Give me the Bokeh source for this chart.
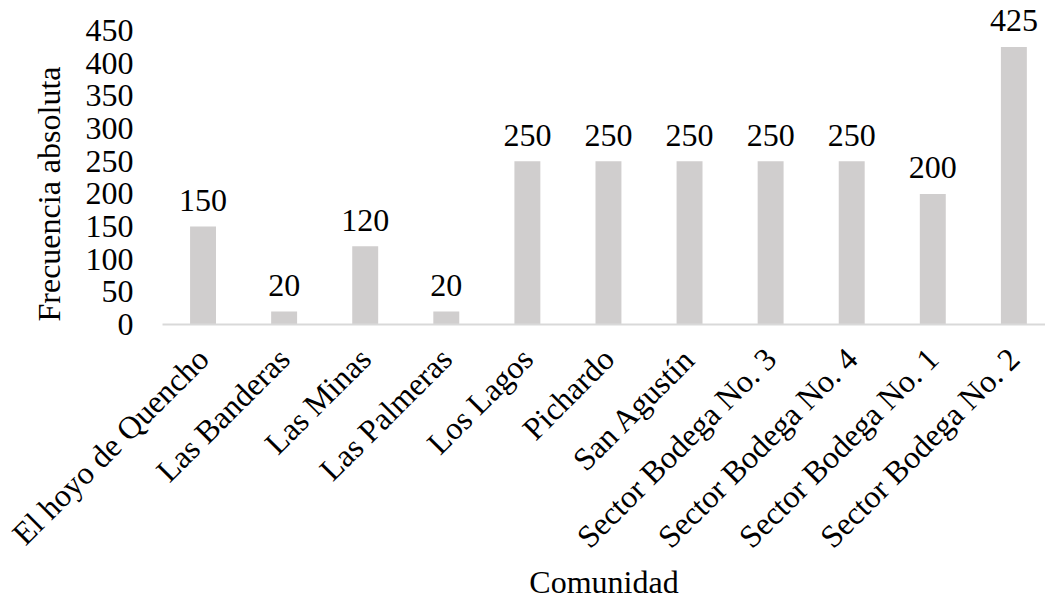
import math
from bokeh.plotting import figure
from bokeh.models import ColumnDataSource, Range1d, FixedTicker, Title
from bokeh.core.properties import value
from bokeh.embed import file_html
from bokeh.resources import INLINE

categories = ["El hoyo de Quencho", "Las Banderas", "Las Minas", "Las Palmeras",
              "Los Lagos", "Pichardo", "San Agustín", "Sector Bodega No. 3",
              "Sector Bodega No. 4", "Sector Bodega No. 1", "Sector Bodega No. 2"]
values = [150, 20, 120, 20, 250, 250, 250, 250, 250, 200, 425]
y_ticks = [0, 50, 100, 150, 200, 250, 300, 350, 400, 450]

FONT = "Liberation Serif"
FS = "32px"

idx = list(range(len(categories)))
src = ColumnDataSource(dict(x=idx, top=values, label=[str(v) for v in values]))

p = figure(width=1045, height=603, output_backend="svg", toolbar_location=None,
           x_range=Range1d(-0.5, 10.39), y_range=Range1d(0, 490),
           min_border_left=162, min_border_right=0, min_border_top=4, min_border_bottom=277)
p.outline_line_color = None
p.background_fill_color = "white"
p.border_fill_color = "white"
p.xgrid.grid_line_color = None
p.ygrid.grid_line_color = None

p.vbar(x="x", top="top", width=0.32, bottom=0, source=src,
       fill_color="#D0CECE", line_color=None)
p.text(x="x", y="top", text="label", source=src, text_align="center",
       text_baseline="alphabetic", y_offset=-26, text_font=value(FONT),
       text_font_size=FS, text_color="black")

# y axis
ya = p.yaxis[0]
ya.ticker = FixedTicker(ticks=y_ticks)
ya.axis_line_color = None
ya.major_tick_line_color = None
ya.major_tick_out = 0
ya.major_tick_in = 0
ya.minor_tick_line_color = None
ya.major_label_text_font = FONT
ya.major_label_text_font_size = FS
ya.major_label_text_color = "black"
ya.major_label_standoff = 29

# y axis title as a side title (allows shifting along the axis)
p.add_layout(Title(text="Frecuencia absoluta", align="left", offset=3,
                   vertical_align="bottom", standoff=32,
                   text_font=FONT, text_font_size=FS, text_font_style="normal",
                   text_color="black"), "left")

# x axis
xa = p.xaxis[0]
xa.ticker = FixedTicker(ticks=idx)
xa.major_label_overrides = {i: c for i, c in enumerate(categories)}
xa.axis_line_color = "#D9D9D9"
xa.axis_line_width = 2
xa.major_tick_line_color = None
xa.major_tick_out = 0
xa.major_tick_in = 0
xa.minor_tick_line_color = None
xa.major_label_orientation = math.pi / 4
xa.major_label_text_font = FONT
xa.major_label_text_font_size = FS
xa.major_label_text_color = "black"
xa.major_label_standoff = 29
xa.axis_label = "Comunidad"
xa.axis_label_text_font = FONT
xa.axis_label_text_font_size = FS
xa.axis_label_text_font_style = "normal"
xa.axis_label_text_color = "black"
xa.axis_label_standoff = -6

open("out.html", "w").write(file_html(p, INLINE))
